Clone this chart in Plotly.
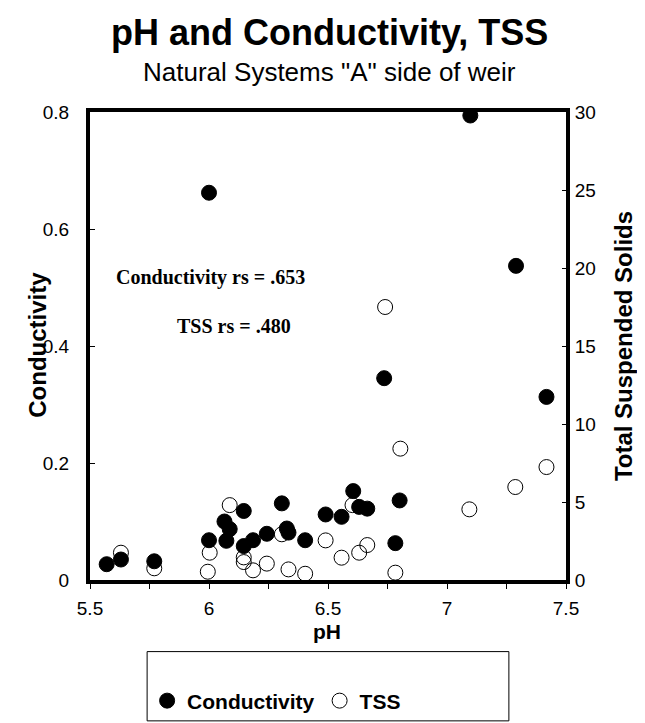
import plotly.graph_objects as go

# conductivity vs pH (left axis)
cond_ph = [5.57, 5.63, 5.77, 6.00, 6.00, 6.065, 6.073, 6.087, 6.146, 6.146, 6.185, 6.243,
           6.306, 6.327, 6.334, 6.404, 6.49, 6.557, 6.606, 6.631, 6.665, 6.736, 6.783,
           6.801, 7.098, 7.29, 7.418]
cond = [0.027, 0.035, 0.032, 0.662, 0.068, 0.100, 0.067, 0.087, 0.118, 0.058, 0.068, 0.079,
        0.131, 0.088, 0.081, 0.068, 0.112, 0.108, 0.152, 0.125, 0.122, 0.345, 0.063,
        0.136, 0.794, 0.537, 0.313]

# total suspended solids vs pH (right axis)
tss_ph = [5.63, 5.77, 5.995, 6.003, 6.087, 6.146, 6.146, 6.185, 6.243, 6.306, 6.334, 6.404,
          6.49, 6.557, 6.603, 6.631, 6.665, 6.74, 6.783, 6.804, 7.094, 7.287, 7.418]
tss = [1.75, 0.75, 0.53, 1.75, 4.8, 1.45, 1.15, 0.62, 1.05, 2.93, 0.68, 0.4,
       2.54, 1.43, 4.8, 1.75, 2.24, 17.5, 0.47, 8.42, 4.53, 5.96, 7.24]

ph_ticks = [5.5, 6, 6.5, 7, 7.5]
cond_ticks = [0, 0.2, 0.4, 0.6, 0.8]
tss_ticks = [0, 5, 10, 15, 20, 25, 30]

SANS = "Liberation Sans, Arial, sans-serif"
SERIF = "Liberation Serif, Times New Roman, serif"

fig = go.Figure()
fig.add_trace(go.Scatter(x=cond_ph, y=cond, mode="markers", name="Conductivity",
                         marker=dict(color="black", size=15, line=dict(color="black", width=1))))
fig.add_trace(go.Scatter(x=tss_ph, y=tss, mode="markers", name="TSS", yaxis="y2",
                         marker=dict(color="rgba(0,0,0,0)", size=15, line=dict(color="black", width=1))))

tickfont = dict(family=SANS, size=19, color="black")


def label(text, x, y, size, family=SANS, angle=0):
    return dict(text=text, xref="paper", yref="paper", x=x, y=y, xanchor="center",
                yanchor="middle", textangle=angle, showarrow=False,
                font=dict(family=family, size=size, color="black"))


fig.update_layout(
    width=637, height=715,
    paper_bgcolor="white", plot_bgcolor="white",
    margin=dict(l=82, r=79, t=104, b=143, autoexpand=False),
    showlegend=True,
    legend=dict(orientation="h", x=0.12, xanchor="left", y=-0.2585, yanchor="middle",
                font=dict(family=SANS, size=21, color="black", weight="bold"),
                bgcolor="rgba(0,0,0,0)"),
    xaxis=dict(range=[5.5, 7.5], tickvals=ph_ticks, ticktext=[str(v) for v in ph_ticks],
               showgrid=False, zeroline=False, ticks="outside", ticklen=5, tickcolor="black",
               tickfont=tickfont, ticklabelstandoff=3,
               showline=True, linewidth=4, linecolor="black", mirror=True,
               minor=dict(dtick=0.25, ticks="outside", ticklen=5, tickcolor="black")),
    yaxis=dict(range=[0, 0.8], tickvals=cond_ticks, ticktext=["0", "0.2", "0.4", "0.6", "0.8"],
               showgrid=False, zeroline=False, ticks="inside", ticklen=5, tickcolor="black",
               tickfont=tickfont, ticklabelstandoff=13,
               showline=True, linewidth=4, linecolor="black", mirror=True),
    yaxis2=dict(range=[0, 30], tickvals=tss_ticks, overlaying="y", side="right",
                showgrid=False, zeroline=False, ticks="inside", ticklen=4, tickcolor="black",
                tickfont=tickfont, ticklabelstandoff=1,
                showline=True, linewidth=4, linecolor="black"),
    shapes=[dict(type="rect", xref="paper", yref="paper", x0=0.120, x1=0.880, y0=-0.153, y1=-0.301,
                 line=dict(color="black", width=1))],
    annotations=[
        label("<b>pH and Conductivity, TSS</b>", 0.504, 1.169, 36),
        label('Natural Systems "A" side of weir', 0.504, 1.085, 26),
        label("<b>Conductivity rs = .653</b>", 0.254, 0.647, 20, SERIF),
        label("<b>TSS rs = .480</b>", 0.3025, 0.543, 20, SERIF),
        label("<b>Conductivity</b>", -0.112, 0.502, 24, angle=-90),
        label("<b>Total Suspended Solids</b>", 1.120, 0.5, 24, angle=-90),
        label("<b>pH</b>", 0.498, -0.109, 21),
    ],
)

fig.write_html("out.html")
